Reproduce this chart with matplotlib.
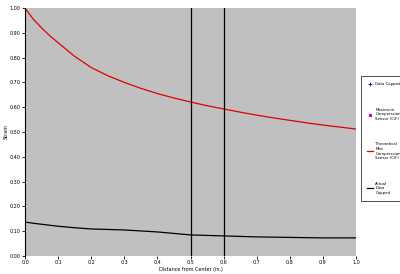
import matplotlib
matplotlib.use("Agg")
import matplotlib.pyplot as plt

# readings
x_vals = [0.0, 0.025, 0.05, 0.075, 0.1, 0.15, 0.2, 0.25, 0.3, 0.35, 0.4, 0.45, 0.5,
          0.55, 0.6, 0.65, 0.7, 0.75, 0.8, 0.85, 0.9, 0.95, 1.0]
theory_max = [1.0, 0.955, 0.92, 0.888, 0.86, 0.805, 0.76, 0.727, 0.70, 0.676, 0.655, 0.637, 0.621,
              0.606, 0.593, 0.58, 0.568, 0.557, 0.547, 0.537, 0.528, 0.52, 0.512]
actual_capped = [0.137, 0.132, 0.128, 0.124, 0.12, 0.114, 0.109, 0.107, 0.105, 0.101, 0.097, 0.091, 0.085,
                 0.083, 0.081, 0.079, 0.077, 0.076, 0.075, 0.074, 0.073, 0.073, 0.073]
marker_lines = [0.5, 0.6]
x_ticks = [0.0, 0.1, 0.2, 0.3, 0.4, 0.5, 0.6, 0.7, 0.8, 0.9, 1.0]
y_ticks = [0.0, 0.1, 0.2, 0.3, 0.4, 0.5, 0.6, 0.7, 0.8, 0.9, 1.0]

fig = plt.figure(figsize=(4, 2.74), dpi=100)
ax = fig.add_axes([25 / 400, 18 / 274, 331 / 400, 248 / 274])
ax.set_facecolor("#c0c0c0")

ax.plot([], [], "+", color="#000080", ms=2.5, mew=0.6, label="Data Capped")
ax.plot([], [], "s", color="#cc00cc", ms=1.3, label="Maximum\nCompression\nSensor (C/F)")
ax.plot(x_vals, theory_max, color="#e00000", lw=0.9, label="Theoretical\nMax\nCompression\nSensor (C/F)")
ax.plot(x_vals, actual_capped, color="black", lw=0.9, label="Actual\nData\nCapped")
for xv in marker_lines:
    ax.axvline(xv, color="black", lw=0.9)

ax.set_xlim(0, 1)
ax.set_ylim(0, 1)
ax.set_xticks(x_ticks)
ax.set_yticks(y_ticks)
ax.set_xticklabels([f"{t:.1f}" for t in x_ticks])
ax.set_yticklabels([f"{t:.2f}" for t in y_ticks])
ax.tick_params(labelsize=3.5, length=2, width=0.6, pad=1)
for s in ["top", "right"]:
    ax.spines[s].set_visible(False)
ax.spines["left"].set_linewidth(0.8)
ax.spines["bottom"].set_visible(False)
ax.set_xlabel("Distance from Center (in.)", fontsize=3.5, labelpad=1)
ax.set_ylabel("Strain", fontsize=3.5, labelpad=1)

leg = ax.legend(loc="upper left", bbox_to_anchor=(1.015, 0.725), fontsize=2.8,
                frameon=True, fancybox=False, edgecolor="black", borderpad=1.6,
                borderaxespad=0, labelspacing=5.5, handlelength=1.6, handletextpad=0.5)
leg.get_frame().set_linewidth(0.6)

fig.savefig("out.png", dpi=100)
